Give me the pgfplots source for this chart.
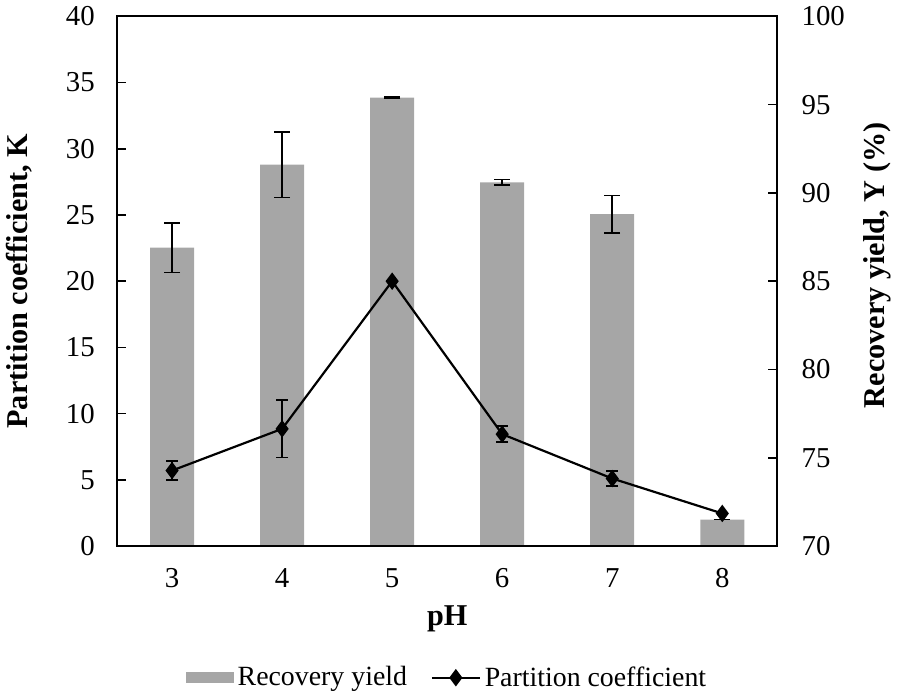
\documentclass[border=0pt]{standalone}
\usepackage{fontspec}
\setmainfont{Liberation Serif}
\usepackage{pgfplots}
\pgfplotsset{compat=1.18}
\definecolor{barc}{HTML}{A6A6A6}
\pgfplotsset{
 mylegline/.style={legend image code/.code={\draw[mark repeat=2, mark phase=2, ##1] plot coordinates {(0pt,0pt) (12pt,0pt) (24pt,0pt)};}},
 mylegbar/.style={legend image code/.code={\fill[barc] (0pt,-2.5pt) rectangle (23.5pt,2.5pt);}},
}
\begin{document}
\begin{tikzpicture}
\path (-57.5pt,-74.15pt) rectangle (391.5pt,273.35pt);
\pgfplotsset{
 base/.style={
  scale only axis, width=332pt, height=266.35pt,
  at={(0pt,0pt)}, anchor=south west,
  xmin=2.5, xmax=8.5,
  /pgf/number format/assume math mode=true,
  tick label style={font=\fontsize{14.5}{17}\selectfont},
  label style={font=\fontsize{15.2}{18}\selectfont\bfseries},
  tick align=inside,
  axis line style={line width=0.9pt},
  every tick/.style={black, line width=0.8pt},
  major tick length=4.5pt,
 }
}
\begin{axis}[base,
  ymin=70, ymax=100, ytick={70,75,...,100},
  xtick={3,...,8},
  xtick pos=bottom, ytick pos=right, yticklabel pos=right,
  xticklabel style={yshift=-7.9pt},
  yticklabel style={xshift=8.7pt},
  xlabel={pH},
  xlabel style={at={(axis description cs:0.5,-0.1376)}, anchor=center},
  ylabel={Recovery yield, Y (\%)},
  ylabel style={at={(axis description cs:1.152,0.53)}, anchor=center},
]
\addplot[ybar, bar width=0.4, fill=barc, draw=none,
  error bars/.cd, y dir=both, y explicit,
  error bar style={black, line width=0.8pt},
  error mark options={black, line width=0.8pt, rotate=90, mark size=4pt}]
coordinates {
(3,86.9) +- (0,1.4)
(4,91.6) +- (0,1.85)
(5,95.4) +- (0,0.03)
(6,90.6) +- (0,0.15)
(7,88.8) +- (0,1.06)
(8,71.5) +- (0,0)
};
\end{axis}
\begin{axis}[base,
  ymin=0, ymax=40, ytick={0,5,...,40},
  xtick=\empty, ytick pos=left,
  yticklabel style={xshift=-7.7pt},
  ylabel={Partition coefficient, K},
  ylabel style={at={(axis description cs:-0.1476,0.5)}, anchor=center},
  legend style={at={(axis description cs:0.5015,-0.2486)}, anchor=center,
    draw=none, fill=none, legend columns=2,
    font=\fontsize{14}{16}\selectfont,
    /tikz/every even column/.append style={column sep=10pt}},
]
\addlegendimage{mylegbar}
\addlegendentry{Recovery yield}
\addplot[black, line width=1.1pt, mark=diamond*, mark size=3.5pt,
  mark options={solid, fill=black}, mylegline,
  error bars/.cd, y dir=both, y explicit,
  error bar style={black, line width=0.8pt},
  error mark options={black, line width=0.8pt, rotate=90, mark size=3pt}]
coordinates {
(3,5.7) +- (0,0.7)
(4,8.85) +- (0,2.17)
(5,20.0) +- (0,0)
(6,8.45) +- (0,0.6)
(7,5.1) +- (0,0.58)
(8,2.46) +- (0,0)
};
\addlegendentry{Partition coefficient}
\end{axis}
\end{tikzpicture}
\end{document}
